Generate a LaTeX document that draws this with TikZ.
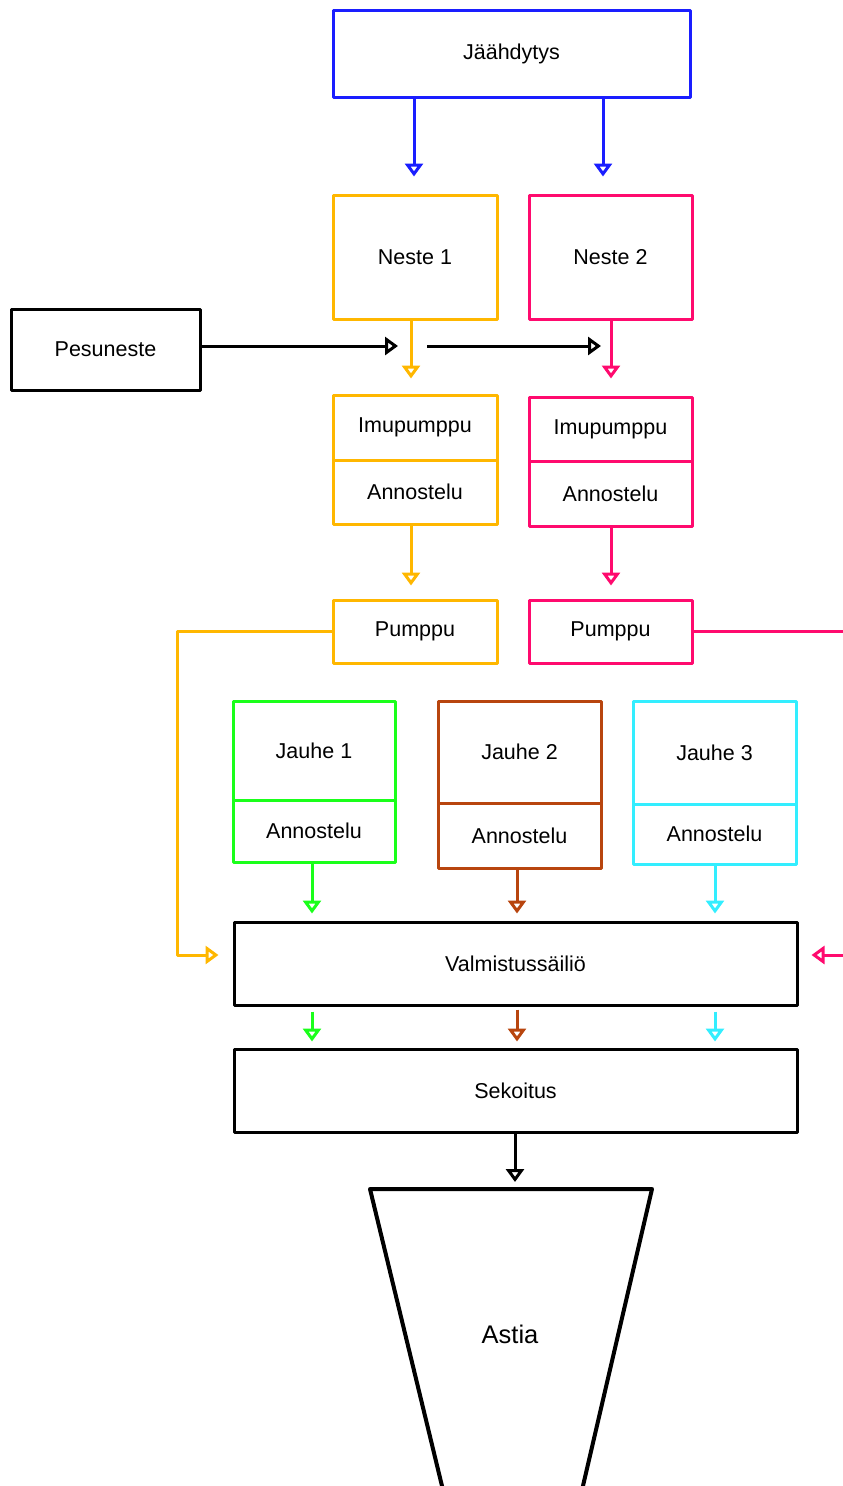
\documentclass[tikz,border=0pt]{standalone}
\usepackage{fontspec}
\setmainfont{Liberation Sans}
\usetikzlibrary{arrows.meta}
\definecolor{cblue}{RGB}{26,30,255}
\definecolor{corange}{RGB}{255,183,0}
\definecolor{cpink}{RGB}{255,10,110}
\definecolor{cgreen}{RGB}{26,255,26}
\definecolor{cbrown}{RGB}{184,69,14}
\definecolor{ccyan}{RGB}{51,238,255}
\begin{document}
\begin{tikzpicture}[x=1pt,y=-1pt,
  font=\fontsize{21.5}{25}\selectfont,
  line width=3pt,
  box/.style={draw, rectangle, inner sep=0pt, line join=round},
  arr/.style={-{Triangle[open,length=13pt,width=18pt]}}]
\useasboundingbox (0,0) rectangle (843,1486);
% boxes
\node[box, draw=cblue, minimum width=357pt, minimum height=87pt] (jaah) at (511.5,53.5) {Jäähdytys};
\node[box, draw=corange, minimum width=164pt, minimum height=124pt] (n1) at (415,257) {Neste 1};
\node[box, draw=cpink, minimum width=163pt, minimum height=124pt] (n2) at (610.5,257) {Neste 2};
\node[box, draw=black, minimum width=189pt, minimum height=81pt] (pes) at (105.5,349.5) {Pesuneste};
\node[box, draw=corange, minimum width=164pt, minimum height=65pt] (imu1) at (415,427.5) {Imupumppu};
\node[box, draw=corange, minimum width=164pt, minimum height=64pt] (ann1) at (415,492) {Annostelu};
\node[box, draw=cpink, minimum width=163pt, minimum height=64pt] (imu2) at (610.5,429) {Imupumppu};
\node[box, draw=cpink, minimum width=163pt, minimum height=65pt] (ann2) at (610.5,493.5) {Annostelu};
\node[box, draw=corange, minimum width=164pt, minimum height=63pt] (p1) at (415,631.5) {Pumppu};
\node[box, draw=cpink, minimum width=163pt, minimum height=63pt] (p2) at (610.5,631.5) {Pumppu};
\node[box, draw=cgreen, minimum width=162pt, minimum height=99pt] (j1) at (314,750.5) {Jauhe 1};
\node[box, draw=cgreen, minimum width=162pt, minimum height=62pt] (a1) at (314,831) {Annostelu};
\node[box, draw=cbrown, minimum width=163pt, minimum height=102pt] (j2) at (519.5,752) {Jauhe 2};
\node[box, draw=cbrown, minimum width=163pt, minimum height=65pt] (a2) at (519.5,835.5) {Annostelu};
\node[box, draw=ccyan, minimum width=163pt, minimum height=103pt] (j3) at (714.5,752.5) {Jauhe 3};
\node[box, draw=ccyan, minimum width=163pt, minimum height=60pt] (a3) at (714.5,834) {Annostelu};
\node[box, draw=black, minimum width=563pt, minimum height=83pt] (valm) at (515.5,963.5) {Valmistussäiliö};
\node[box, draw=black, minimum width=563pt, minimum height=83pt] (sek) at (515.5,1090.5) {Sekoitus};
% container
\draw[line width=4pt, line join=round] (370,1189) -- (652,1189) -- (579.7,1500) -- (445.4,1500) -- cycle;
\coordinate (astop) at (515,1189);
\node[font=\fontsize{25.5}{30}\selectfont] (astia) at (510,1334) {Astia};
% free-end coordinates
\coordinate (b1) at (398,346);
\coordinate (b2) at (427,346);
\coordinate (b3) at (601,346);
\coordinate (oc1) at (177,631.5);
\coordinate (oc2) at (177,955);
\coordinate (pe1) at (843,631.5);
\coordinate (pe2) at (850,955);
% connectors
\draw[arr, cblue, shorten >=17pt] ([xshift=-1pt]jaah.south -| n1.north) -- ([xshift=-1pt]n1.north);
\draw[arr, cblue, shorten >=17pt] ([xshift=-7.5pt]jaah.south -| n2.north) -- ([xshift=-7.5pt]n2.north);
\draw[arr, black] ([yshift=3.5pt]pes.east) -- (b1);
\draw[arr, black] (b2) -- (b3);
\draw[arr, corange, shorten >=15pt] ([xshift=-4pt]n1.south) -- ([xshift=-4pt]imu1.north);
\draw[arr, cpink, shorten >=17pt] ([xshift=0.5pt]n2.south) -- ([xshift=0.5pt]imu2.north);
\draw[arr, corange, shorten >=13pt] ([xshift=-4pt]ann1.south) -- ([xshift=-4pt]p1.north);
\draw[arr, cpink, shorten >=13pt] ([xshift=0.5pt]ann2.south) -- ([xshift=0.5pt]p2.north);
\draw[arr, corange, shorten >=14pt, line join=round] (p1.west) -- (oc1) -- (oc2) -- ([yshift=8.5pt]valm.west);
\draw[cpink] (p2.east) -- (pe1);
\draw[arr, cpink, shorten >=13pt] (pe2) -- ([yshift=8.5pt]valm.east);
\draw[arr, cgreen, shorten >=7pt] ([xshift=-2pt]a1.south) -- ([xshift=-2pt]a1.south |- valm.north);
\draw[arr, cbrown, shorten >=7pt] ([xshift=-2.5pt]a2.south) -- ([xshift=-2.5pt]a2.south |- valm.north);
\draw[arr, ccyan, shorten >=7pt] ([xshift=0.5pt]a3.south) -- ([xshift=0.5pt]a3.south |- valm.north);
\draw[arr, cgreen, shorten <=5pt, shorten >=6pt] ([xshift=-2pt]valm.south -| a1.south) -- ([xshift=-2pt]sek.north -| a1.south);
\draw[arr, cbrown, shorten <=3pt, shorten >=6pt] ([xshift=-2.5pt]valm.south -| a2.south) -- ([xshift=-2.5pt]sek.north -| a2.south);
\draw[arr, ccyan, shorten <=5pt, shorten >=6pt] ([xshift=0.5pt]valm.south -| a3.south) -- ([xshift=0.5pt]sek.north -| a3.south);
\draw[arr, black, shorten >=7pt] (sek.south -| astop) -- (astop);
\end{tikzpicture}
\end{document}
